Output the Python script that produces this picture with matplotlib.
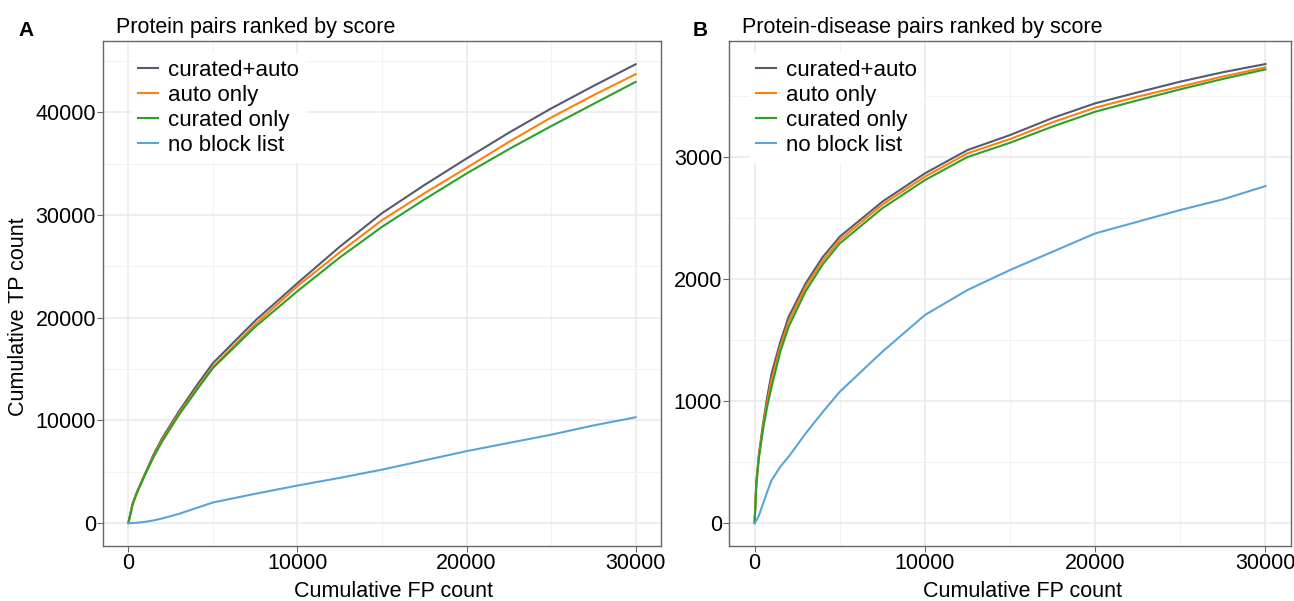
import matplotlib.pyplot as plt
from matplotlib.ticker import MultipleLocator

plt.rcParams['font.family'] = ['Liberation Sans', 'DejaVu Sans']

# ===============================
# DATA
# ===============================
fp_a = [0, 250, 500, 1000, 1500, 2000, 3000, 4000, 5000, 7500, 10000, 12500, 15000, 17500, 20000, 22500, 25000, 27500, 30000]
a_both = [0, 1900, 3000, 4870, 6700, 8270, 10900, 13300, 15570, 19700, 23360, 26900, 30170, 32900, 35490, 38000, 40360, 42550, 44670]
a_auto = [0, 1850, 2950, 4800, 6550, 8100, 10700, 13000, 15210, 19350, 23070, 26350, 29490, 32100, 34580, 37100, 39480, 41650, 43700]
a_cur = [0, 1800, 2900, 4750, 6450, 7950, 10550, 12850, 15090, 19100, 22580, 25850, 28840, 31500, 34030, 36400, 38640, 40800, 42950]
a_none = [0, 0, 30, 120, 260, 450, 900, 1450, 2000, 2850, 3650, 4400, 5200, 6100, 7000, 7800, 8600, 9500, 10300]

fp_b = [0, 100, 250, 500, 750, 1000, 1500, 2000, 3000, 4000, 5000, 7500, 10000, 12500, 15000, 17500, 20000, 22500, 25000, 27500, 30000]
b_both = [0, 330, 560, 820, 1040, 1227, 1480, 1690, 1965, 2180, 2347, 2634, 2866, 3057, 3180, 3320, 3440, 3530, 3618, 3695, 3762]
b_auto = [0, 320, 545, 800, 1000, 1172, 1440, 1650, 1935, 2150, 2320, 2610, 2839, 3030, 3147, 3285, 3404, 3495, 3577, 3660, 3735]
b_cur = [0, 310, 530, 770, 960, 1117, 1400, 1609, 1900, 2120, 2292, 2580, 2811, 3000, 3117, 3250, 3371, 3465, 3555, 3640, 3718]
b_none = [0, 20, 60, 160, 260, 352, 460, 544, 735, 910, 1076, 1404, 1705, 1910, 2074, 2224, 2374, 2470, 2566, 2653, 2762]

labels = ["curated+auto", "auto only", "curated only", "no block list"]
colors = ["#555b6e", "#ff7f0e", "#2ca02c", "#5aa5d5"]

panels = [
    ("A", "Protein pairs ranked by score", fp_a, [a_both, a_auto, a_cur, a_none],
     [0.0796, 0.0915, 0.4312, 0.8403], (-2235, 46935), 10000, 5000, 0.0139, 0.0395),
    ("B", "Protein-disease pairs ranked by score", fp_b, [b_both, b_auto, b_cur, b_none],
     [0.5634, 0.0915, 0.4343, 0.8403], (-188, 3951), 1000, 500, 0.535, 0.025),
]

fig = plt.figure(figsize=(12.94, 6.01), dpi=100)

for letter, title, xs, series, rect, ylim, ymaj, ymin, letter_x, leg_x in panels:
    ax = fig.add_axes(rect)
    for ys, lab, col in zip(series, labels, colors):
        ax.plot(xs, ys, color=col, lw=1.5, label=lab)
    ax.set_xlim(-1500, 31500)
    ax.set_ylim(*ylim)
    ax.xaxis.set_major_locator(MultipleLocator(10000))
    ax.xaxis.set_minor_locator(MultipleLocator(5000))
    ax.yaxis.set_major_locator(MultipleLocator(ymaj))
    ax.yaxis.set_minor_locator(MultipleLocator(ymin))
    ax.grid(which="major", color="#ebebeb", lw=1.2)
    ax.grid(which="minor", color="#f2f2f2", lw=0.8)
    ax.set_axisbelow(True)
    for s in ax.spines.values():
        s.set_color("#666666")
        s.set_linewidth(1.0)
    ax.tick_params(which="major", length=4, color="#666666", labelsize=15.5, labelcolor="black", pad=1)
    ax.tick_params(which="minor", length=0)
    ax.set_xlabel("Cumulative FP count", fontsize=15.5, labelpad=5)
    ax.xaxis.label.set_x(0.5 + 12 / 560)
    if letter == "A":
        ax.set_ylabel("Cumulative TP count", fontsize=15.5, labelpad=5)
        ax.yaxis.label.set_y(0.5 - 23 / 505)
    ax.legend(loc="upper left", bbox_to_anchor=(leg_x, 0.989),
              fontsize=16, frameon=True, facecolor="white", edgecolor="none", framealpha=1,
              handlelength=0.9, handletextpad=0.45, labelspacing=0.18, borderpad=0.3,
              borderaxespad=0.3, fancybox=False)
    fig.text(rect[0] + 0.010, 0.955, title, fontsize=15.5, ha="left", va="center")
    fig.text(letter_x, 0.950, letter, fontsize=15, fontweight="bold", ha="left", va="center")

fig.savefig("out.png", dpi=100)
